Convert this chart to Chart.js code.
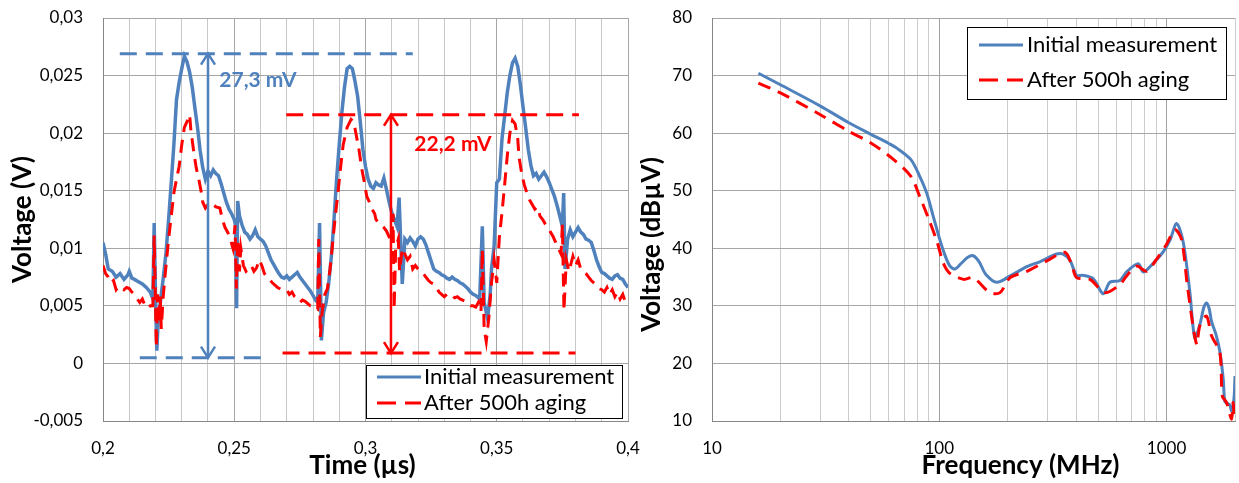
<!DOCTYPE html>
<html>
<head>
<meta charset="utf-8">
<script src="https://cdn.jsdelivr.net/npm/chart.js@4"></script>
<style>
  body { margin: 0; background: #fff; width: 1239px; height: 483px; overflow: hidden; position: relative; }
  canvas { position: absolute; top: 0; }
  #timeChart { left: 0; }
  #freqChart { left: 640px; }
</style>
</head>
<body>
<canvas id="timeChart" width="642" height="483"></canvas>
<canvas id="freqChart" width="599" height="483"></canvas>
<script>
const BLUE = "#4f81bd";
const RED  = "#ff0000";
const FONT = "Lato";

// ---- time domain (left) ----
const timeInitial = [
    0.2, 0.201, 0.202, 0.2035, 0.205, 0.2065, 0.208, 0.2095, 0.21, 0.211,
    0.212, 0.2135, 0.215, 0.2165, 0.218, 0.219, 0.2195, 0.22, 0.2205, 0.221,
    0.222, 0.223, 0.224, 0.225, 0.226, 0.227, 0.228, 0.229, 0.23, 0.231,
    0.232, 0.233, 0.234, 0.235, 0.236, 0.237, 0.238, 0.239, 0.24, 0.241,
    0.242, 0.243, 0.244, 0.245, 0.246, 0.247, 0.248, 0.249, 0.25, 0.2505,
    0.2509, 0.2513, 0.252, 0.253, 0.254, 0.255, 0.256, 0.257, 0.258, 0.259,
    0.26, 0.261, 0.262, 0.263, 0.264, 0.265, 0.266, 0.267, 0.268, 0.269,
    0.27, 0.271, 0.272, 0.273, 0.274, 0.275, 0.276, 0.277, 0.278, 0.279,
    0.28, 0.281, 0.2818, 0.2825, 0.2832, 0.284, 0.285, 0.286, 0.287, 0.288,
    0.289, 0.29, 0.291, 0.292, 0.293, 0.294, 0.295, 0.296, 0.297, 0.298,
    0.299, 0.3, 0.301, 0.302, 0.303, 0.304, 0.305, 0.306, 0.307, 0.308,
    0.309, 0.31, 0.311, 0.312, 0.3128, 0.3135, 0.314, 0.315, 0.316, 0.317,
    0.318, 0.319, 0.32, 0.321, 0.322, 0.323, 0.324, 0.325, 0.326, 0.327,
    0.328, 0.329, 0.33, 0.331, 0.332, 0.333, 0.334, 0.335, 0.336, 0.337,
    0.338, 0.339, 0.34, 0.341, 0.342, 0.3435, 0.3445, 0.3452, 0.3465, 0.3475,
    0.348, 0.349, 0.35, 0.351, 0.352, 0.353, 0.354, 0.355, 0.356, 0.357,
    0.358, 0.359, 0.36, 0.361, 0.362, 0.363, 0.364, 0.365, 0.366, 0.367,
    0.368, 0.369, 0.37, 0.371, 0.372, 0.373, 0.374, 0.375, 0.3755, 0.376,
    0.377, 0.378, 0.379, 0.38, 0.381, 0.382, 0.383, 0.384, 0.385, 0.386,
    0.387, 0.388, 0.389, 0.39, 0.391, 0.392, 0.393, 0.394, 0.395, 0.396,
    0.397, 0.398, 0.399, 0.4
];
const voltInitial = [
    0.0105, 0.0095, 0.0082, 0.008, 0.0075, 0.0078, 0.0073, 0.0077, 0.008, 0.0074,
    0.0073, 0.0071, 0.0069, 0.0066, 0.0062, 0.0056, 0.0122, 0.006, 0.0011, 0.0036,
    0.0056, 0.0075, 0.0096, 0.0125, 0.0157, 0.019, 0.0229, 0.0244, 0.0256, 0.0267,
    0.0262, 0.0253, 0.024, 0.0222, 0.0205, 0.0185, 0.017, 0.016, 0.0167, 0.0163,
    0.0168, 0.0165, 0.0163, 0.0156, 0.0148, 0.014, 0.0134, 0.013, 0.0125, 0.012,
    0.0048, 0.0141, 0.0128, 0.012, 0.0114, 0.0112, 0.0108, 0.0111, 0.0116, 0.011,
    0.0108, 0.0106, 0.0102, 0.0096, 0.009, 0.0086, 0.0082, 0.0078, 0.0075, 0.0074,
    0.0076, 0.0073, 0.0075, 0.0077, 0.0079, 0.0075, 0.0072, 0.0069, 0.0066, 0.0063,
    0.0059, 0.0055, 0.0053, 0.0122, 0.002, 0.0044, 0.0053, 0.007, 0.0093, 0.0125,
    0.016, 0.019, 0.0218, 0.024, 0.0256, 0.0258, 0.0256, 0.0245, 0.0232, 0.021,
    0.0186, 0.0171, 0.016, 0.0154, 0.0152, 0.0157, 0.0155, 0.0154, 0.0161, 0.0151,
    0.014, 0.0131, 0.0125, 0.0119, 0.0144, 0.01, 0.0069, 0.0108, 0.0105, 0.0109,
    0.0106, 0.0102, 0.0108, 0.011, 0.0108, 0.0103, 0.0096, 0.0089, 0.0082, 0.008,
    0.0079, 0.0077, 0.0076, 0.0074, 0.0073, 0.0075, 0.0073, 0.0072, 0.007, 0.0069,
    0.0067, 0.0065, 0.0062, 0.006, 0.0059, 0.0056, 0.0119, 0.0053, 0.0039, 0.006,
    0.0082, 0.0102, 0.0157, 0.016, 0.0195, 0.0215, 0.0235, 0.025, 0.0261, 0.0265,
    0.0258, 0.0242, 0.0223, 0.0205, 0.0186, 0.0172, 0.0163, 0.0165, 0.016, 0.0163,
    0.0166, 0.0162, 0.0157, 0.0151, 0.0145, 0.0137, 0.0128, 0.0119, 0.0148, 0.0082,
    0.0108, 0.0116, 0.011, 0.0114, 0.0118, 0.0114, 0.0112, 0.0108, 0.0107, 0.0105,
    0.0098, 0.009, 0.0084, 0.0079, 0.0078, 0.0076, 0.0074, 0.0073, 0.0076, 0.0077,
    0.0074, 0.0073, 0.0069, 0.0066
];
const timeAged = [
    0.2, 0.201, 0.202, 0.203, 0.204, 0.205, 0.206, 0.207, 0.208, 0.209,
    0.21, 0.211, 0.212, 0.213, 0.214, 0.215, 0.216, 0.217, 0.218, 0.219,
    0.2195, 0.22, 0.2203, 0.2208, 0.2212, 0.2218, 0.2222, 0.223, 0.224, 0.225,
    0.226, 0.227, 0.228, 0.229, 0.23, 0.231, 0.232, 0.233, 0.2335, 0.2345,
    0.2355, 0.2365, 0.2375, 0.238, 0.239, 0.24, 0.241, 0.242, 0.243, 0.2445,
    0.2455, 0.2465, 0.2475, 0.2485, 0.2495, 0.2503, 0.2508, 0.2513, 0.252, 0.2525,
    0.2535, 0.2545, 0.2555, 0.2565, 0.2575, 0.2585, 0.2595, 0.2605, 0.2615, 0.2625,
    0.2635, 0.2645, 0.2655, 0.2665, 0.268, 0.27, 0.271, 0.272, 0.273, 0.274,
    0.275, 0.276, 0.277, 0.278, 0.279, 0.28, 0.281, 0.2818, 0.2822, 0.2828,
    0.2835, 0.2845, 0.2855, 0.2865, 0.2875, 0.2885, 0.2895, 0.2905, 0.2915, 0.293,
    0.2945, 0.2955, 0.2965, 0.2975, 0.2985, 0.2995, 0.3005, 0.3015, 0.3025, 0.3035,
    0.304, 0.305, 0.306, 0.307, 0.308, 0.309, 0.31, 0.3105, 0.3109, 0.3115,
    0.3125, 0.313, 0.314, 0.315, 0.316, 0.317, 0.318, 0.319, 0.32, 0.321,
    0.322, 0.323, 0.324, 0.325, 0.326, 0.327, 0.328, 0.329, 0.33, 0.331,
    0.332, 0.333, 0.334, 0.335, 0.336, 0.337, 0.338, 0.339, 0.34, 0.341,
    0.342, 0.343, 0.344, 0.3445, 0.3452, 0.346, 0.347, 0.348, 0.349, 0.35,
    0.351, 0.352, 0.353, 0.354, 0.355, 0.356, 0.357, 0.358, 0.3585, 0.3595,
    0.3605, 0.3615, 0.3625, 0.3635, 0.3645, 0.3655, 0.3665, 0.3675, 0.3685, 0.3695,
    0.3705, 0.3715, 0.3725, 0.3735, 0.3745, 0.375, 0.3756, 0.3765, 0.3775, 0.379,
    0.38, 0.381, 0.382, 0.383, 0.384, 0.385, 0.386, 0.387, 0.388, 0.389,
    0.39, 0.391, 0.392, 0.393, 0.394, 0.395, 0.396, 0.397, 0.398, 0.399
];
const voltAged = [
    0.0085, 0.0078, 0.0075, 0.007, 0.0072, 0.0064, 0.0067, 0.0066, 0.0064, 0.0066,
    0.0065, 0.0062, 0.006, 0.0056, 0.0053, 0.0056, 0.005, 0.0048, 0.005, 0.005,
    0.0111, 0.005, 0.0014, 0.006, 0.0035, 0.0058, 0.003, 0.006, 0.0085, 0.0108,
    0.0128, 0.0148, 0.016, 0.0171, 0.019, 0.0205, 0.021, 0.0216, 0.0202, 0.0185,
    0.017, 0.016, 0.0148, 0.014, 0.0135, 0.0138, 0.014, 0.0138, 0.0136, 0.0135,
    0.0125, 0.0118, 0.0114, 0.0108, 0.01, 0.012, 0.0065, 0.0108, 0.008, 0.01,
    0.0085, 0.008, 0.0082, 0.0085, 0.008, 0.0083, 0.009, 0.0085, 0.0078, 0.0075,
    0.0073, 0.007, 0.0068, 0.0066, 0.0064, 0.0064, 0.006, 0.0062, 0.0058, 0.0056,
    0.0053, 0.0055, 0.0054, 0.0052, 0.005, 0.005, 0.0048, 0.0047, 0.0108, 0.0023,
    0.0045, 0.006, 0.0065, 0.0082, 0.0105, 0.0128, 0.0148, 0.017, 0.019, 0.0205,
    0.0212, 0.021, 0.0198, 0.0186, 0.017, 0.0158, 0.0145, 0.014, 0.0134, 0.013,
    0.0125, 0.0122, 0.012, 0.0118, 0.0115, 0.011, 0.0105, 0.013, 0.0047, 0.01,
    0.0108, 0.008, 0.01, 0.0095, 0.009, 0.0093, 0.0082, 0.0085, 0.0082, 0.008,
    0.0078, 0.0075, 0.0072, 0.007, 0.0069, 0.0066, 0.0062, 0.006, 0.0058, 0.006,
    0.0058, 0.0059, 0.0057, 0.0058, 0.0056, 0.0055, 0.0054, 0.0052, 0.005, 0.005,
    0.0049, 0.0053, 0.0045, 0.0099, 0.003, 0.0019, 0.004, 0.007, 0.009, 0.007,
    0.011, 0.0131, 0.0155, 0.018, 0.02, 0.0211, 0.0208, 0.0195, 0.0179, 0.0165,
    0.0155, 0.0148, 0.0142, 0.0138, 0.0134, 0.0136, 0.0128, 0.0125, 0.0121, 0.0118,
    0.0114, 0.011, 0.0105, 0.01, 0.0095, 0.0121, 0.0046, 0.009, 0.008, 0.0093,
    0.0085, 0.009, 0.0082, 0.008, 0.0078, 0.0075, 0.0072, 0.007, 0.0068, 0.0065,
    0.0064, 0.0062, 0.0066, 0.006, 0.0064, 0.0058, 0.0062, 0.0056, 0.006, 0.0053
];

const timeGrid       = [0.2, 0.21, 0.22, 0.23, 0.24, 0.25, 0.26, 0.27, 0.28, 0.29, 0.3,
                        0.31, 0.32, 0.33, 0.34, 0.35, 0.36, 0.37, 0.38, 0.39, 0.4];
const timeTickLabels = ["0,2", "", "", "", "", "0,25", "", "", "", "", "0,3",
                        "", "", "", "", "0,35", "", "", "", "", "0,4"];
const voltGrid       = [-0.005, 0, 0.005, 0.01, 0.015, 0.02, 0.025, 0.03];
const voltTickLabels = ["-0,005", "0", "0,005", "0,01", "0,015", "0,02", "0,025", "0,03"];

// peak-to-peak markers: [level, from, to] in V / µs
const blueLevels  = [[0.0269, 0.2064, 0.318], [0.0005, 0.214, 0.2615]];
const redLevels   = [[0.0216, 0.2698, 0.3813], [0.0009, 0.2684, 0.38]];
const blueArrow   = { t: 0.24, lo: 0.0005, hi: 0.0269, text: "27,3 mV", tx: 0.2443, ty: 0.0246 };
const redArrow    = { t: 0.3097, lo: 0.0009, hi: 0.0216, text: "22,2 mV", tx: 0.3186, ty: 0.019 };

// ---- frequency domain (right) ----
const freqInitial = [16, 20, 30, 40, 50, 60, 65, 75, 82, 88,
                     94, 100, 105, 111, 117, 125, 133, 141, 150, 160,
                     179, 205, 243, 278, 328, 351, 376, 402, 430, 476,
                     526, 563, 623, 667, 750, 789, 845, 967, 1035, 1107,
                     1183, 1265, 1331, 1400, 1460, 1499, 1540, 1577, 1650, 1715,
                     1774, 1805, 1860, 1898, 1931, 1960, 1985, 2000];
const dbInitial   = [70.4, 68.4, 64.7, 61.8, 59.8, 58.2, 57.4, 55.4, 52.5, 49.6,
                     45.6, 41.8, 39.2, 37.0, 36.4, 37.4, 38.4, 38.7, 37.6, 35.5,
                     34.1, 35.2, 36.8, 37.7, 39.0, 39.0, 37.9, 35.3, 35.3, 34.7,
                     32.1, 34.1, 34.4, 35.9, 37.3, 35.9, 36.8, 39.4, 41.4, 44.3,
                     41.1, 32.5, 24.4, 26.7, 29.8, 30.5, 29.5, 27.3, 25.0, 22.1,
                     17.4, 13.4, 13.0, 12.8, 11.7, 12.5, 14.5, 17.8];
const freqAged    = [16, 20, 30, 40, 50, 63, 75, 82, 90, 98,
                     104, 111, 128, 141, 167, 185, 205, 243, 297, 357,
                     384, 402, 460, 535, 623, 667, 738, 817, 904, 1000,
                     1089, 1164, 1240, 1356, 1400, 1499, 1577, 1715, 1760, 1836,
                     1931, 1960, 1985];
const dbAged      = [68.7, 67.0, 63.2, 60.3, 58.3, 55.4, 52.5, 49.0, 45.0, 41.0,
                     37.5, 35.7, 34.6, 34.9, 32.3, 32.3, 34.9, 36.0, 37.8, 39.3,
                     36.9, 34.9, 34.6, 32.3, 33.7, 35.2, 36.9, 36.0, 38.1, 40.7,
                     43.2, 41.5, 32.9, 23.3, 26.5, 28.2, 24.8, 21.9, 14.3, 13.2,
                     10.3, 13.2, 10.5];
const freqGrid       = [10, 20, 30, 40, 50, 60, 70, 80, 90,
                        100, 200, 300, 400, 500, 600, 700, 800, 900, 1000, 2000];
const freqTickLabels = ["10", "", "", "", "", "", "", "", "",
                        "100", "", "", "", "", "", "", "", "", "1000", ""];

const seriesNames = ["Initial measurement", "After 500h aging"];

function points(xs, ys) {
    return xs.map((x, i) => ({ x, y: ys[i] }));
}

// keep the plot box where the layout padding puts it (tick padding would add to it)
function noScalePadding(s) {
    s.paddingTop = s.paddingBottom = s.paddingLeft = s.paddingRight = 0;
}

// axis titles drawn at a shift from the plot centre
const axisTitles = {
    id: "axisTitles",
    afterDraw(chart, args, o) {
        const { ctx, chartArea: ca } = chart;
        ctx.save();
        ctx.font = `bold 26px ${FONT}`;
        ctx.fillStyle = "#000";
        ctx.textAlign = "center";
        ctx.textBaseline = "middle";
        ctx.fillText(o.x, (ca.left + ca.right) / 2 + o.xShift, o.xTitleY);
        ctx.translate(o.yTitleX, (ca.top + ca.bottom) / 2 + o.yShift);
        ctx.rotate(-Math.PI / 2);
        ctx.fillText(o.y, 0, 0);
        ctx.restore();
    }
};

// boxed legend inside the plot
const boxLegend = {
    id: "boxLegend",
    afterDraw(chart, args, o) {
        const { ctx } = chart;
        ctx.save();
        ctx.fillStyle = "#fff";
        ctx.fillRect(o.x, o.y, o.w, o.h);
        ctx.strokeStyle = "#000";
        ctx.lineWidth = 1;
        ctx.strokeRect(o.x + 0.5, o.y + 0.5, o.w, o.h);
        ctx.font = `22px ${FONT}`;
        ctx.textBaseline = "middle";
        const series = chart.data.datasets.filter(d => d.inLegend)
            .sort((a, b) => a.legendRank - b.legendRank);
        series.forEach((d, i) => {
            const y = o.y + o.rows[i];
            ctx.strokeStyle = d.borderColor;
            ctx.lineWidth = 3;
            ctx.setLineDash(d.borderDash ? [19, 9] : []);
            ctx.beginPath();
            ctx.moveTo(o.x + o.sample, y);
            ctx.lineTo(o.x + o.sample + 44, y);
            ctx.stroke();
            ctx.fillStyle = "#000";
            ctx.fillText(d.label, o.x + o.text, y);
        });
        ctx.restore();
    }
};

// arrow heads and labels for the peak-to-peak markers
const arrowMarks = {
    id: "arrowMarks",
    afterDatasetsDraw(chart) {
        const { ctx, scales: { x, y } } = chart;
        ctx.save();
        [[blueArrow, BLUE], [redArrow, RED]].forEach(([a, color]) => {
            const px = x.getPixelForValue(a.t);
            const top = y.getPixelForValue(a.hi);
            const bot = y.getPixelForValue(a.lo);
            ctx.strokeStyle = color;
            ctx.lineWidth = 2.5;
            ctx.beginPath();
            ctx.moveTo(px - 7, top + 11); ctx.lineTo(px, top); ctx.lineTo(px + 7, top + 11);
            ctx.moveTo(px - 7, bot - 11); ctx.lineTo(px, bot); ctx.lineTo(px + 7, bot - 11);
            ctx.stroke();
            ctx.fillStyle = color;
            ctx.font = `bold 21px ${FONT}`;
            ctx.textBaseline = "middle";
            ctx.fillText(a.text, x.getPixelForValue(a.tx), y.getPixelForValue(a.ty));
        });
        ctx.restore();
    }
};

const tickFont = { family: FONT, size: 17 };

const levelSets = [];
blueLevels.forEach(([v, a, b]) => levelSets.push({ data: [{ x: a, y: v }, { x: b, y: v }], color: BLUE }));
redLevels.forEach(([v, a, b]) => levelSets.push({ data: [{ x: a, y: v }, { x: b, y: v }], color: RED }));

new Chart(document.getElementById("timeChart"), {
    type: "line",
    data: {
        datasets: [
            { label: seriesNames[1], data: points(timeAged, voltAged), borderColor: RED, borderWidth: 3,
              borderDash: [13, 8], pointRadius: 0, order: 1, inLegend: true, legendRank: 1 },
            { label: seriesNames[0], data: points(timeInitial, voltInitial), borderColor: BLUE, borderWidth: 3.5,
              pointRadius: 0, order: 2, inLegend: true, legendRank: 0 },
            ...levelSets.map(s => ({ data: s.data, borderColor: s.color, borderWidth: 3,
              borderDash: [17, 9], pointRadius: 0, order: 0 })),
            { data: [{ x: blueArrow.t, y: blueArrow.lo }, { x: blueArrow.t, y: blueArrow.hi }],
              borderColor: BLUE, borderWidth: 2.5, pointRadius: 0, order: 0 },
            { data: [{ x: redArrow.t, y: redArrow.lo }, { x: redArrow.t, y: redArrow.hi }],
              borderColor: RED, borderWidth: 2.5, pointRadius: 0, order: 0 }
        ]
    },
    options: {
        responsive: false,
        animation: false,
        devicePixelRatio: 1,
        layout: { padding: { left: 0, right: 14, top: 18, bottom: 0 } },
        scales: {
            x: {
                type: "linear", min: 0.2, max: 0.4,
                afterBuildTicks: s => { s.ticks = timeGrid.map(v => ({ value: v })); },
                afterFit: s => { s.height = 62; noScalePadding(s); },
                ticks: { autoSkip: false, maxRotation: 0, padding: 17, font: tickFont, color: "#000",
                         callback: (v, i) => timeTickLabels[i] },
                grid: { drawTicks: false, color: c => (c.index % 5 === 0 ? "#a6a6a6" : "#c8c8c8") },
                border: { color: "#868686" }
            },
            y: {
                min: -0.005, max: 0.03,
                afterBuildTicks: s => { s.ticks = voltGrid.map(v => ({ value: v })); },
                afterFit: s => { s.width = 103; noScalePadding(s); },
                ticks: { padding: 20, font: tickFont, color: "#000", callback: (v, i) => voltTickLabels[i] },
                grid: { drawTicks: false, color: "#a6a6a6" },
                border: { color: "#868686" }
            }
        },
        plugins: {
            legend: { display: false },
            tooltip: { enabled: false },
            axisTitles: { x: "Time (µs)", y: "Voltage (V)", xShift: -3, xTitleY: 466, yTitleX: 23, yShift: 0 },
            boxLegend: { x: 366, y: 365, w: 256, h: 53, rows: [12, 38], sample: 11, text: 58 }
        }
    },
    plugins: [arrowMarks, axisTitles, boxLegend]
});

new Chart(document.getElementById("freqChart"), {
    type: "line",
    data: {
        datasets: [
            { label: seriesNames[1], data: points(freqAged, dbAged), borderColor: RED, borderWidth: 3,
              borderDash: [13, 8], pointRadius: 0, tension: 0.3, order: 1, inLegend: true, legendRank: 1 },
            { label: seriesNames[0], data: points(freqInitial, dbInitial), borderColor: BLUE, borderWidth: 3,
              pointRadius: 0, tension: 0.3, order: 2, inLegend: true, legendRank: 0 }
        ]
    },
    options: {
        responsive: false,
        animation: false,
        devicePixelRatio: 1,
        layout: { padding: { left: 0, right: 4, top: 18, bottom: 0 } },
        scales: {
            x: {
                type: "logarithmic", min: 10, max: 2000,
                afterBuildTicks: s => { s.ticks = freqGrid.map(v => ({ value: v })); },
                afterFit: s => { s.height = 62; noScalePadding(s); },
                ticks: { autoSkip: false, maxRotation: 0, padding: 17, font: tickFont, color: "#000",
                         callback: (v, i) => freqTickLabels[i] },
                grid: { drawTicks: false, color: c => (freqTickLabels[c.index] ? "#a0a0a0" : "#cccccc") },
                border: { color: "#868686" }
            },
            y: {
                min: 10, max: 80,
                ticks: { stepSize: 10, padding: 20, font: tickFont, color: "#000" },
                afterFit: s => { s.width = 72; noScalePadding(s); },
                grid: { drawTicks: false, color: "#a6a6a6" },
                border: { color: "#868686" }
            }
        },
        plugins: {
            legend: { display: false },
            tooltip: { enabled: false },
            axisTitles: { x: "Frequency (MHz)", y: "Voltage (dBµV)", xShift: 47, xTitleY: 466, yTitleX: 12, yShift: 25 },
            boxLegend: { x: 327, y: 27, w: 259, h: 72, rows: [18, 53], sample: 12, text: 60 }
        }
    },
    plugins: [axisTitles, boxLegend]
});
</script>
</body>
</html>
